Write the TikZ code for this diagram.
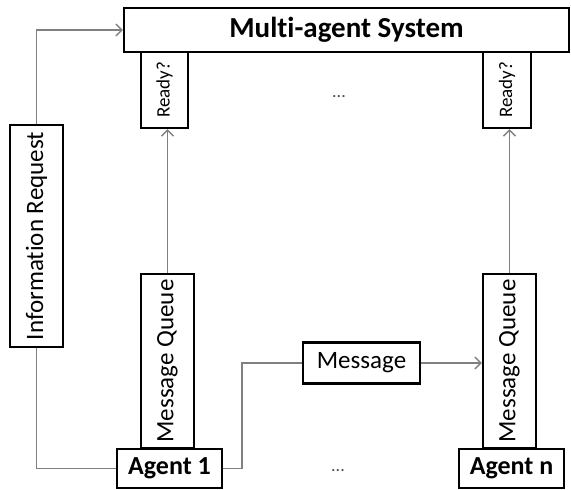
\documentclass[tikz,border=0pt]{standalone}
\usepackage{fontspec}
\usepackage{graphicx}
\setmainfont{Carlito}[Ligatures=NoCommon]
\usetikzlibrary{arrows.meta}
\tikzset{
  box/.style={draw=black, line width=2.4pt, fill=white, inner sep=0pt, align=center},
  conn/.style={draw=black!50, line width=1.3pt},
  arr/.style={conn, -{Straight Barb[length=6pt,width=12pt]}},
  title/.style={font=\fontsize{29}{32}\selectfont\bfseries},
  big/.style={font=\fontsize{26}{29}\selectfont\bfseries},
  reg/.style={font=\fontsize{25}{28}\selectfont},
  small/.style={font=\fontsize{19}{21}\selectfont},
  dots/.style={font=\fontsize{18}{20}\selectfont, text=black!70},
}
\begin{document}
\begin{tikzpicture}[x=1pt,y=-1pt]
\useasboundingbox (0,0) rectangle (571,490);
% nodes
\node[box, title, minimum width=445pt, minimum height=44pt] (sys) at (346.5,30) {Multi-agent System};
\node[box, small, minimum width=47pt, minimum height=76pt] (r1) at (164.5,90) {\rotatebox{90}{Ready?}};
\node[box, small, minimum width=48pt, minimum height=76pt] (rn) at (507,90) {\rotatebox{90}{Ready?}};
\node[dots] (d1) at (339,97) {...};
\node[box, reg, minimum width=53pt, minimum height=222pt] (info) at (36.5,236) {\rotatebox{90}{Information Request}};
\node[box, reg, minimum width=53pt, minimum height=174pt] (mq1) at (167.5,361) {\rotatebox{90}{Message Queue}};
\node[box, reg, minimum width=53pt, minimum height=174pt] (mqn) at (509.5,361) {\rotatebox{90}{Message Queue}};
\node[box, big, minimum width=105pt, minimum height=39pt] (a1) at (169.5,468.5) {Agent 1};
\node[box, big, minimum width=105pt, minimum height=39pt] (an) at (511.5,468.5) {Agent n};
\node[box, reg, minimum width=117pt, minimum height=41pt] (msg) at (361.5,363) {Message};
\node[dots] (d2) at (338,471) {...};
\coordinate (bend) at (242,0);
% connectors
\draw[arr] (info.north) |- (sys.west);
\draw[conn] (info.south) |- (a1.west);
\draw[conn] (a1.east) -- (a1.east -| bend) |- (msg.west);
\draw[arr] (msg.east) -- (mqn.west |- msg.east);
\draw[arr] (mq1.north) -- (mq1.north |- r1.south);
\draw[arr] (mqn.north) -- (mqn.north |- rn.south);
\end{tikzpicture}
\end{document}
